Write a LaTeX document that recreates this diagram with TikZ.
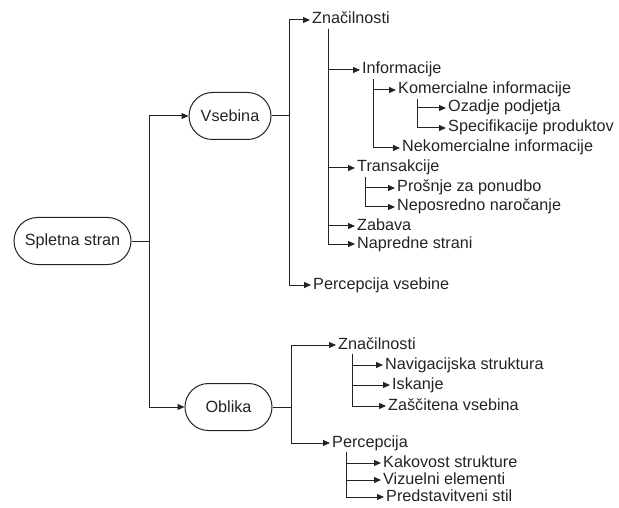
\documentclass[tikz,border=0pt]{standalone}
\usepackage{fontspec}
\setmainfont{Liberation Sans}
\usepackage{tikz}
\usetikzlibrary{arrows.meta,shapes.misc}
\definecolor{LineGray}{RGB}{35,35,35}

\begin{document}
\begin{tikzpicture}[x=1pt, y=-1pt, >={Triangle[length=7pt,width=6pt]},
  font=\fontsize{16.2}{19}\selectfont, color=LineGray,
  term/.style={draw=LineGray, line width=1pt, rounded rectangle, minimum height=47pt,
               inner xsep=6pt},
  itm/.style={anchor=west, inner xsep=2pt, inner ysep=1pt, text height=11.5pt, text depth=3.5pt},
  sig/.style={->, line width=1pt, draw=LineGray}]
  \useasboundingbox (0,0) rectangle (619,508);

  \node[term, minimum width=129pt] (sp) at (72.5,241) {Spletna stran};
  \node[term, minimum width=94pt]  (vs) at (230,116)  {Vsebina};
  \node[term, minimum width=99pt]  (ob) at (228.5,407) {Oblika};

  \node[itm] (zn1) at (310,20)  {Značilnosti};
  \node[itm] (inf) at (360,70)  {Informacije};
  \node[itm] (kom) at (396,90)  {Komercialne informacije};
  \node[itm] (oza) at (446,108) {Ozadje podjetja};
  \node[itm] (spe) at (446,128) {Specifikacije produktov};
  \node[itm] (nek) at (400,148) {Nekomercialne informacije};
  \node[itm] (tra) at (355,168) {Transakcije};
  \node[itm] (pro) at (395,188) {Prošnje za ponudbo};
  \node[itm] (nep) at (395,207) {Neposredno naročanje};
  \node[itm] (zab) at (355,226) {Zabava};
  \node[itm] (nap) at (355,244) {Napredne strani};
  \node[itm] (pv)  at (311,285) {Percepcija vsebine};

  \node[itm] (zn2) at (336,345) {Značilnosti};
  \node[itm] (nav) at (383,365) {Navigacijska struktura};
  \node[itm] (isk) at (390,385) {Iskanje};
  \node[itm] (zas) at (386,406) {Zaščitena vsebina};
  \node[itm] (per) at (330,443) {Percepcija};
  \node[itm] (kak) at (381,463) {Kakovost strukture};
  \node[itm] (viz) at (381,480) {Vizuelni elementi};
  \node[itm] (pre) at (384,497) {Predstavitveni stil};

  \draw[sig] (sp.east) -- ++(18,0) |- (vs.west);
  \draw[sig] (sp.east) -- ++(18,0) |- (ob.west);

  \draw[sig] (vs.east) -- ++(18,0) |- (zn1.west);
  \draw[sig] (vs.east) -- ++(18,0) |- (pv.west);
  \foreach \c in {inf,tra,zab,nap}
    \draw[sig] ([xshift=18pt]zn1.south west) |- (\c.west);
  \foreach \c in {kom,nek}
    \draw[sig] ([xshift=13pt]inf.south west) |- (\c.west);
  \foreach \c in {oza,spe}
    \draw[sig] ([xshift=21pt]kom.south west) |- (\c.west);
  \foreach \c in {pro,nep}
    \draw[sig] ([xshift=10pt]tra.south west) |- (\c.west);

  \draw[sig] (ob.east) -- ++(19,0) |- (zn2.west);
  \draw[sig] (ob.east) -- ++(19,0) |- (per.west);
  \foreach \c in {nav,isk,zas}
    \draw[sig] ([xshift=16pt]zn2.south west) |- (\c.west);
  \foreach \c in {kak,viz,pre}
    \draw[sig] ([xshift=16pt]per.south west) |- (\c.west);
\end{tikzpicture}
\end{document}
